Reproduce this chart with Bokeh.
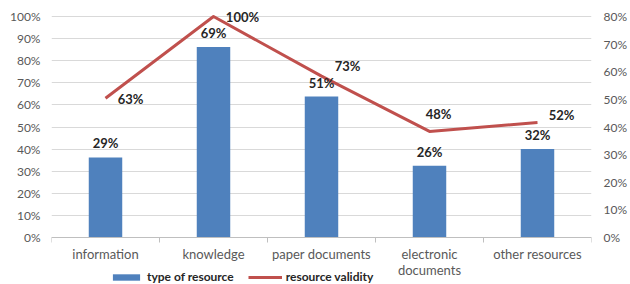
from bokeh.plotting import figure
from bokeh.models import (Range1d, LinearAxis, FixedTicker, PrintfTickFormatter,
                          ColumnDataSource, Legend, LegendItem, CustomJSTickFormatter)
from bokeh.core.properties import value
from bokeh.embed import file_html
from bokeh.resources import INLINE

# ---- data ----
categories = ["information", "knowledge", "paper documents", "electronic\ndocuments", "other resources"]
type_of_resource = [29, 69, 51, 26, 32]      # bars, right axis (0-80%)
resource_validity = [63, 100, 73, 48, 52]    # line, left axis (0-100%)
left_ticks = [0, 10, 20, 30, 40, 50, 60, 70, 80, 90, 100]
right_ticks = [0, 10, 20, 30, 40, 50, 60, 70, 80]

# ---- label placement (style) ----
validity_label_dx = [25, 29, 26, 9, 24]
validity_label_dy = [1, 0, -10, -17, -8]

FONT = "Lato"
BLUE = "#4F81BD"
RED = "#C0504D"

W, H = 630, 284
FRAME_TOP, LEFT, RIGHT = 2, 51, 33
TOP_Y = 16                         # pixel row of the 100% line
ZERO_Y = 237                       # pixel row of the 0% baseline
span = ZERO_Y - TOP_Y
below_frac = (H - ZERO_Y) / span
above_frac = (TOP_Y - FRAME_TOP) / span

xs = [i + 0.5 for i in range(len(categories))]
src = ColumnDataSource(dict(
    x=xs,
    bar=type_of_resource,
    line=resource_validity,
    bar_lbl=[f"{v}%" for v in type_of_resource],
    line_lbl=[f"{v}%" for v in resource_validity],
    dx=validity_label_dx,
    dy=validity_label_dy,
))

p = figure(width=W, height=H, output_backend="svg", toolbar_location=None,
           x_range=Range1d(0, len(categories)),
           y_range=Range1d(-100 * below_frac, 100 * (1 + above_frac)),
           min_border_left=LEFT, min_border_top=FRAME_TOP, min_border_right=RIGHT,
           min_border_bottom=0)
p.outline_line_color = None
p.extra_y_ranges = {"right": Range1d(-80 * below_frac, 80 * (1 + above_frac))}

# grid
p.xgrid.grid_line_color = None
p.ygrid.grid_line_color = "#D9D9D9"
p.ygrid.ticker = FixedTicker(ticks=left_ticks)

# x axis (fixed at the 0% baseline)
xa = p.xaxis[0]
xa.fixed_location = 0
xa.ticker = FixedTicker(ticks=xs, minor_ticks=list(range(len(categories) + 1)))
xa.formatter = CustomJSTickFormatter(args=dict(labels=categories),
                                     code="return labels[Math.floor(tick)];")
xa.major_tick_out = 0
xa.major_tick_in = 0
xa.minor_tick_out = 5
xa.minor_tick_in = 0
xa.minor_tick_line_color = "#BFBFBF"
xa.axis_line_color = "#BFBFBF"
xa.major_label_standoff = 3
xa.major_label_text_font = FONT
xa.major_label_text_font_size = "13px"
xa.major_label_text_line_height = 1.0
xa.major_label_text_color = "#595959"

# left axis
ya = p.yaxis[0]
ya.ticker = FixedTicker(ticks=left_ticks)
ya.formatter = PrintfTickFormatter(format="%d%%")
ya.major_tick_out = 0
ya.major_tick_in = 0
ya.minor_tick_line_color = None
ya.axis_line_color = None
ya.major_label_standoff = 11
ya.major_label_text_font = FONT
ya.major_label_text_font_size = "12px"
ya.major_label_text_color = "#595959"

# right axis
ra = LinearAxis(y_range_name="right", ticker=FixedTicker(ticks=right_ticks),
                formatter=PrintfTickFormatter(format="%d%%"))
ra.major_tick_out = 0
ra.major_tick_in = 0
ra.minor_tick_line_color = None
ra.axis_line_color = None
ra.major_label_standoff = 12
ra.major_label_text_font = FONT
ra.major_label_text_font_size = "12px"
ra.major_label_text_color = "#595959"
p.add_layout(ra, "right")

# bars (right axis)
bars = p.vbar(x="x", top="bar", bottom=0, width=0.31, source=src, y_range_name="right",
              fill_color=BLUE, line_color=None)
# line (left axis)
line = p.line(x="x", y="line", source=src, line_color=RED, line_width=3, line_join="round")

# data labels
p.text(x="x", y="bar", text="bar_lbl", source=src, y_range_name="right",
       text_align="center", text_baseline="middle", y_offset=-14,
       text_font=value(FONT), text_font_style="bold", text_font_size="13px",
       text_color="#262626")
p.text(x="x", y="line", text="line_lbl", source=src,
       text_align="center", text_baseline="middle", x_offset="dx", y_offset="dy",
       text_font=value(FONT), text_font_style="bold", text_font_size="13px",
       text_color="#262626")

legend = Legend(items=[LegendItem(label="type of resource", renderers=[bars]),
                       LegendItem(label="resource validity", renderers=[line])],
                orientation="horizontal", location=(58, 0))
legend.padding = 0
legend.margin = 0
legend.spacing = 14
legend.border_line_color = None
legend.background_fill_alpha = 0
legend.glyph_width = 34
legend.glyph_height = 8
legend.label_standoff = 4
legend.label_height = 14
legend.label_text_font = FONT
legend.label_text_font_style = "bold"
legend.label_text_font_size = "12px"
legend.label_text_color = "#262626"
p.add_layout(legend)

open("out.html", "w").write(file_html(p, INLINE))
